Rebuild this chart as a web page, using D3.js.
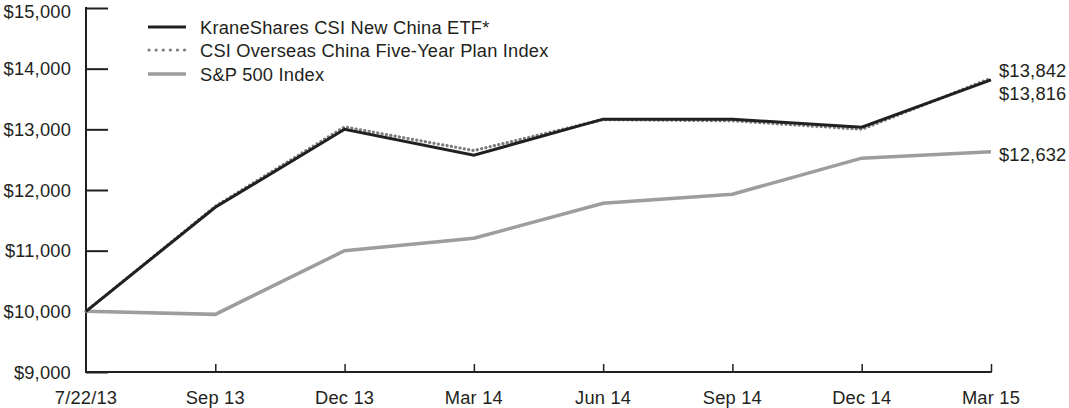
<!DOCTYPE html>
<html><head><meta charset="utf-8">
<script src="https://cdn.jsdelivr.net/npm/d3@7"></script>
<style>
html,body{margin:0;padding:0;background:#fff;}
text{font-family:"Liberation Sans",Arial,Helvetica,sans-serif;fill:#231f20;}
</style></head>
<body><svg id="c" width="1069" height="408"></svg>
<script>
const categories = ["7/22/13","Sep 13","Dec 13","Mar 14","Jun 14","Sep 14","Dec 14","Mar 15"];
const etfValues   = [10000, 11716, 13000, 12574, 13168, 13165, 13036, 13816];
const indexValues = [10000, 11730, 13040, 12650, 13160, 13140, 13000, 13842];
const spValues    = [10000, 9950, 11000, 11205, 11782, 11930, 12525, 12632];
const yTicks = [9000,10000,11000,12000,13000,14000,15000];
const seriesNames = ["KraneShares CSI New China ETF*","CSI Overseas China Five-Year Plan Index","S&P 500 Index"];
const endLabels = ["$13,842","$13,816","$12,632"];

const svg = d3.select("#c");
const m = {l:86, r:78, t:8, b:36};
const W = 1069, H = 408;
const x = d3.scalePoint().domain(categories).range([m.l, W - m.r]);
const y = d3.scaleLinear().domain([9000,15000]).range([H - m.b, m.t]);
const fmt = d => "$" + d3.format(",")(d);
const ink = "#231f20";
const fs = 18.3;
const ls = "0.2px";

// y axis
const ya = svg.append("g").attr("transform",`translate(${m.l},0)`)
  .call(d3.axisRight(y).tickValues(yTicks).tickSize(22).tickFormat(""));
ya.select(".domain").remove();
ya.selectAll(".tick line").attr("stroke",ink).attr("stroke-width",2);
svg.append("g").selectAll("text").data(yTicks).join("text")
  .attr("x", m.l - 15).attr("y", d => Math.max(y(d), 11)).attr("dy","0.36em")
  .attr("text-anchor","end").attr("font-size",fs).attr("letter-spacing",ls)
  .text(fmt);
svg.append("line").attr("x1",m.l).attr("x2",m.l).attr("y1",y(15000)-1).attr("y2",y(9000)+1)
  .attr("stroke",ink).attr("stroke-width",2);

// x axis
const xa = svg.append("g").attr("transform",`translate(0,${y(9000)})`)
  .call(d3.axisTop(x).tickSize(8).tickFormat(""));
xa.select(".domain").remove();
xa.selectAll(".tick").filter((d,i)=>i===0).remove();
xa.selectAll(".tick line").attr("stroke",ink).attr("stroke-width",1.5);
svg.append("line").attr("x1",m.l).attr("x2",x(categories[categories.length-1])+0.75)
  .attr("y1",y(9000)).attr("y2",y(9000)).attr("stroke",ink).attr("stroke-width",2);
svg.append("g").selectAll("text").data(categories).join("text")
  .attr("x", d => x(d)).attr("y", H - 4)
  .attr("text-anchor","middle").attr("font-size",fs).attr("letter-spacing",ls)
  .text(d => d);

const line = d3.line().x((d,i)=>x(categories[i])).y(d=>y(d));
svg.append("path").datum(spValues).attr("d",line).attr("fill","none")
  .attr("stroke","#9d9d9d").attr("stroke-width",3.5).attr("stroke-linejoin","miter");
svg.append("path").datum(indexValues).attr("d",line).attr("fill","none")
  .attr("stroke","#7d7d7d").attr("stroke-width",3.2).attr("stroke-dasharray","0.1,4.3")
  .attr("stroke-linecap","round");
svg.append("path").datum(etfValues).attr("d",line).attr("fill","none")
  .attr("stroke",ink).attr("stroke-width",3).attr("stroke-linejoin","miter");

// legend
const lg = svg.append("g");
const rows = [27, 50, 74];
const styles = [
  {stroke:ink, w:3, dash:null, cap:"butt"},
  {stroke:"#7d7d7d", w:3.2, dash:"0.1,7", cap:"round"},
  {stroke:"#9d9d9d", w:3.5, dash:null, cap:"butt"}
];
seriesNames.forEach((n,i)=>{
  lg.append("line").attr("x1",i===1?149:148).attr("x2",i===1?185:186).attr("y1",rows[i]).attr("y2",rows[i])
    .attr("stroke",styles[i].stroke).attr("stroke-width",styles[i].w)
    .attr("stroke-dasharray",styles[i].dash).attr("stroke-linecap",styles[i].cap);
  lg.append("text").attr("x",200).attr("y",rows[i]).attr("dy","0.36em")
    .attr("font-size",fs).attr("letter-spacing",ls).text(n);
});

// end labels
const endY = [y(13842)-8, y(13816)+14, y(12632)+3];
svg.append("g").selectAll("text").data(endLabels).join("text")
  .attr("x",999).attr("y",(d,i)=>endY[i]).attr("dy","0.36em")
  .attr("font-size",fs).attr("letter-spacing",ls).text(d=>d);
</script></body></html>
